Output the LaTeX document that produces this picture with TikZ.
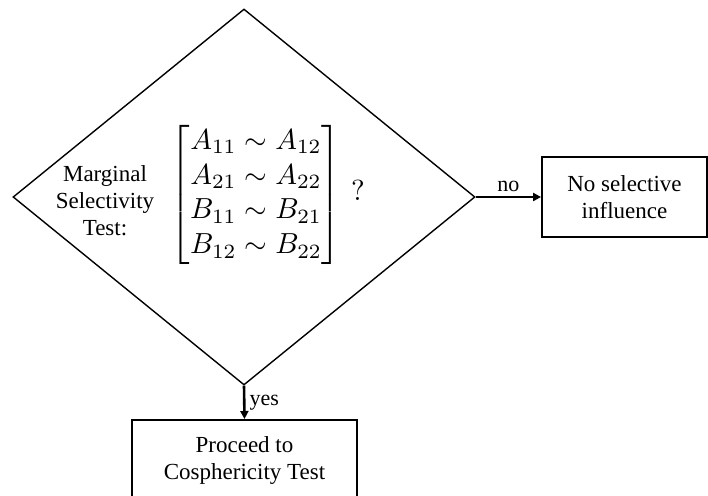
\documentclass[tikz,border=0pt]{standalone}
\usepackage{amsmath}
\usepackage{graphicx}
\usepackage[no-math]{fontspec}
\setmainfont{Liberation Serif}
\newfontfamily\timesfam{Liberation Serif}
\usetikzlibrary{shapes.geometric,arrows.meta}
\tikzset{
  decision/.style={draw, shape=diamond, line width=1.4pt, inner sep=0pt,
    minimum width=462pt, minimum height=376pt},
  outbox/.style={draw, rectangle, line width=1.8pt, inner sep=0pt},
  txt/.style={font=\timesfam\fontsize{23}{27}\selectfont, align=center, inner sep=0pt},
  flow/.style={line width=2.6pt, -{Triangle[length=8pt,width=8pt]}},
  lbl/.style={font=\timesfam\fontsize{22}{26}\selectfont, inner sep=0pt},
  mathtxt/.style={inner sep=0pt}
}
\begin{document}
\begin{tikzpicture}[x=1pt, y=-1pt]
  \useasboundingbox (0,0) rectangle (708,495);
  \clip (0,0) rectangle (708,495);

  % decision diamond and its contents
  \node[decision] (test) at (244,197) {};
  \node[txt] (label) at (105,201) {Marginal\\Selectivity\\Test:};
  \node[mathtxt] (mat) at (256,194.5)
    {\scalebox{2.9}{$\begin{bmatrix} A_{11} \sim A_{12}\\ A_{21} \sim A_{22}\\ B_{11} \sim B_{21}\\ B_{12} \sim B_{22}\end{bmatrix}$}};
  \node[mathtxt] (qm) at (358,190) {\scalebox{2.9}{$?$}};

  % outcomes
  \node[outbox, minimum width=165pt, minimum height=80pt, txt] (nosel) at (624.5,197)
    {No selective\\influence};
  \node[outbox, minimum width=225pt, minimum height=100pt, anchor=north] (next) at (244.5,419) {};
  \node[txt] (nexttxt) at (244.5,460) {Proceed to\\Cosphericity Test};

  % connectors
  \draw[flow] (test.east) -- (nosel.west) node[lbl, midway, above=4pt] (no) {no};
  \draw[flow] (test.south) -- (next.north) node[lbl, midway, right=4pt] (yes) {yes};
\end{tikzpicture}
\end{document}
